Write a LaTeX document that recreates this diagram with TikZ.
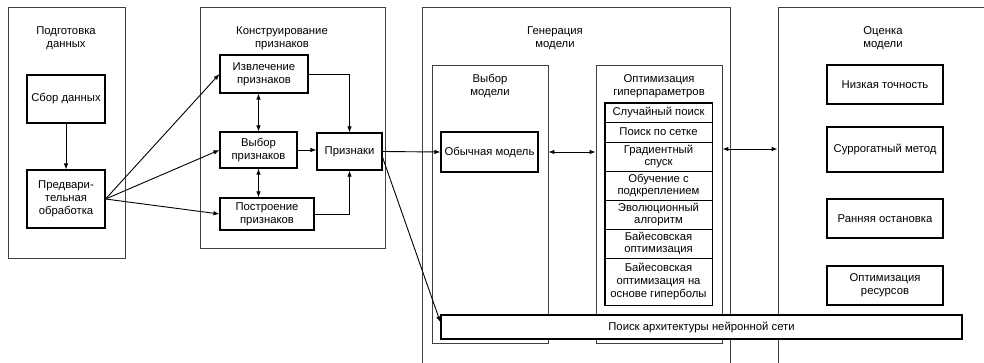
\documentclass[tikz,border=0pt]{standalone}
\usepackage{fontspec}
\setmainfont{Liberation Sans}
\usetikzlibrary{arrows.meta}
\begin{document}
\begin{tikzpicture}[
        x=1pt, y=-1pt,
        font=\fontsize{11.3}{12.8}\selectfont,
        stage/.style={draw=black!75, line width=0.8pt, inner sep=0pt},
        box/.style={draw, line width=1.1pt, align=center, inner sep=1pt},
        item/.style={draw, line width=0.9pt, align=center, inner sep=0pt, minimum width=107pt},
        head/.style={align=center, inner sep=0pt},
        arrow/.style={->, >={Latex[length=6pt,width=4.5pt]}, line width=0.9pt},
        link/.style={<->, >={Latex[length=6pt,width=4.5pt]}, line width=0.9pt}
    ]
        \path[use as bounding box, clip] (0,0) rectangle (984,362);

        % Data preparation
        \node[stage, minimum width=117pt, minimum height=251pt] (prep) at (66.5,132.5) {};
        \node[head] (prephead) at (66,38) {Подготовка\\данных};
        \node[box, minimum width=78pt, minimum height=48pt] (collect) at (66,99) {Сбор данных};
        \node[box, minimum width=78pt, minimum height=58pt] (preproc) at (66,199) {Предвари-\\тельная\\обработка};

        % Feature engineering
        \node[stage, minimum width=185pt, minimum height=241pt] (feat) at (292.5,127.5) {};
        \node[head] (feathead) at (282,38) {Конструирование\\признаков};
        \node[box, minimum width=88pt, minimum height=38pt] (extract) at (264,74) {Извлечение\\признаков};
        \node[box, minimum width=77pt, minimum height=36pt] (select) at (258.5,150) {Выбор\\признаков};
        \node[box, minimum width=94pt, minimum height=32pt] (build) at (267,214) {Построение\\признаков};
        \node[box, minimum width=65pt, minimum height=37pt] (priz) at (349.5,151.5) {Признаки};

        % Model generation
        \node[stage, minimum width=308pt, minimum height=373pt] (gen) at (576,193.5) {};
        \node[head] (genhead) at (555,38) {Генерация\\модели};
        \node[stage, minimum width=116pt, minimum height=278pt] (modsel) at (490,204) {};
        \node[head] (modselhead) at (490,86) {Выбор\\модели};
        \node[box, minimum width=97pt, minimum height=40pt] (plain) at (489.5,152) {Обычная модель};
        \node[stage, minimum width=126pt, minimum height=278pt] (hpo) at (659,204) {};
        \node[head] (hpohead) at (659,86) {Оптимизация\\гиперпараметров};
        \node[item, minimum height=19pt] (rand) at (658.5,112.5) {Случайный поиск};
        \node[item, minimum height=20pt] (grid) at (658.5,132) {Поиск по сетке};
        \node[item, minimum height=29pt] (grad) at (658.5,156.5) {Градиентный\\спуск};
        \node[item, minimum height=29pt] (rl) at (658.5,185.5) {Обучение с\\подкреплением};
        \node[item, minimum height=29pt] (evo) at (658.5,214.5) {Эволюционный\\алгоритм};
        \node[item, minimum height=29pt] (bayes) at (658.5,243.5) {Байесовская\\оптимизация};
        \node[item, minimum height=47pt] (hyper) at (658.5,281.5) {Байесовская\\оптимизация на\\основе гиперболы};
        \draw[line width=1.2pt] (rand.north west) rectangle (hyper.south east);

        % Model evaluation
        \node[stage, minimum width=222pt, minimum height=373pt] (eval) at (889,193.5) {};
        \node[head] (evalhead) at (883,38) {Оценка\\модели};
        \node[box, minimum width=116pt, minimum height=39pt] (lowacc) at (885,84.5) {Низкая точность};
        \node[box, minimum width=116pt, minimum height=45pt] (surr) at (885,149.5) {Суррогатный метод};
        \node[box, minimum width=116pt, minimum height=39pt] (early) at (885,218.5) {Ранняя остановка};
        \node[box, minimum width=116pt, minimum height=39pt] (res) at (885,285.5) {Оптимизация\\ресурсов};

        % Neural architecture search
        \node[box, fill=white, minimum width=521pt, minimum height=24pt] (nas) at (701.5,327) {Поиск архитектуры нейронной сети};

        % Connections
        \draw[arrow] (collect) -- (preproc);
        \draw[arrow] (preproc.east) -- (extract.west);
        \draw[arrow] (preproc.east) -- (select.west);
        \draw[arrow] (preproc.east) -- (build.west);

        \draw[link] (select.north) -- (select.north |- extract.south);
        \draw[link] (select.south) -- (select.south |- build.north);
        \draw[arrow] (extract.east) -| (priz.north);
        \draw[arrow] (select.east) -- (select.east -| priz.west);
        \draw[arrow] (build.east) -| (priz.south);

        \draw[arrow] (priz.east) -- (plain.west);
        \draw[arrow] (priz.-10) -- (nas.179);
        \draw[link] (plain.east -| modsel.east) -- (plain.east -| hpo.west);
        \draw[link] ([yshift=3pt]plain.east -| hpo.east) -- ([yshift=3pt]plain.east -| eval.west);
    \end{tikzpicture}
\end{document}
